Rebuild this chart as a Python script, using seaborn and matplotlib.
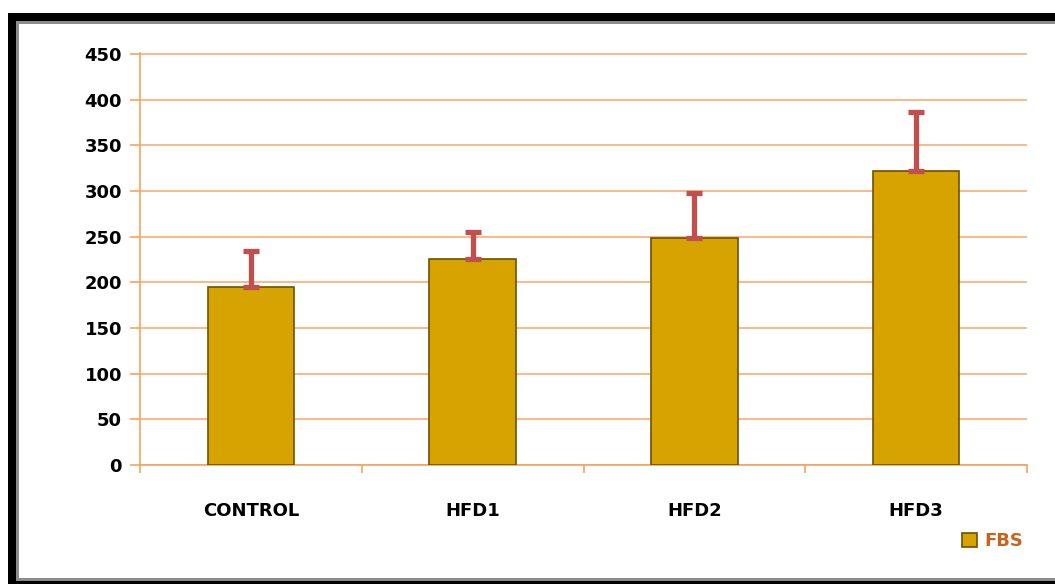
import matplotlib
matplotlib.use("Agg")
import matplotlib.pyplot as plt
import seaborn as sns
import pandas as pd
from matplotlib.patches import Rectangle

groups = ["CONTROL", "HFD1", "HFD2", "HFD3"]
fbs = [195, 226, 249, 322]
fbs_err = [39, 29, 49, 64]
yticks = [0, 50, 100, 150, 200, 250, 300, 350, 400, 450]

df = pd.DataFrame({"group": groups, "FBS": fbs})

sns.set_style("white")
plt.rcParams["font.family"] = ["DejaVu Sans"]

fig = plt.figure(figsize=(10.55, 5.84), dpi=100)
W, H = 1055, 584

def frect(x0, y0, x1, y1, color, z):
    fig.patches.append(Rectangle((x0 / W, 1 - y1 / H), (x1 - x0) / W, (y1 - y0) / H,
                                 transform=fig.transFigure, facecolor=color,
                                 edgecolor="none", zorder=z))

frect(8, 13, 1070, 600, "black", -3)
frect(16, 21, 1062, 581, "#8c8c8c", -2)
frect(19, 24, 1060, 578, "white", -1)

ax = fig.add_axes([140 / W, 1 - 465 / H, (1027 - 140) / W, (465 - 53) / H])
ax.set_facecolor("none")

orange = "#F7A35C"
grid_c = "#F9B482"

sns.barplot(data=df, x="group", y="FBS", color="#D6A300", width=0.39,
            errorbar=None, ax=ax, edgecolor="#6b5200", linewidth=1.2,
            saturation=1, label="FBS", zorder=3)

ax.errorbar(range(len(groups)), fbs, yerr=[[0] * len(fbs), fbs_err], fmt="none",
            ecolor="#C0504D", elinewidth=3.8, capsize=6, capthick=3.8, zorder=4)

ax.set_ylim(0, 451)
ax.set_yticks(yticks)
ax.set_xlim(-0.5, 3.5)
ax.yaxis.grid(True, color=grid_c, linewidth=1.3, zorder=0)
ax.set_axisbelow(True)
ax.set_xlabel("")
ax.set_ylabel("")

for s in ["top", "right"]:
    ax.spines[s].set_visible(False)
for s in ["left", "bottom"]:
    ax.spines[s].set_color(orange)
    ax.spines[s].set_linewidth(1.2)

ax.tick_params(axis="y", which="major", left=True, length=7, color=orange, width=1.2,
               labelsize=13, pad=6)
ax.set_xticks([-0.5, 0.5, 1.5, 2.5, 3.5], minor=True)
ax.tick_params(axis="x", which="minor", bottom=True, length=6, color=orange, width=1.2,
               direction="out")
ax.tick_params(axis="x", which="major", bottom=False, length=0, labelsize=13, pad=27)
for lab in ax.get_yticklabels() + ax.get_xticklabels():
    lab.set_fontweight("bold")
    lab.set_color("black")

leg = ax.legend(loc="center left", bbox_to_anchor=(946 / W, 1 - 541 / H),
                bbox_transform=fig.transFigure, frameon=False, handlelength=0.8,
                handleheight=0.8, handletextpad=0.4,
                prop={"weight": "bold", "size": 13})
for t in leg.get_texts():
    t.set_color("#C5651B")

fig.savefig("out.png", dpi=100)
